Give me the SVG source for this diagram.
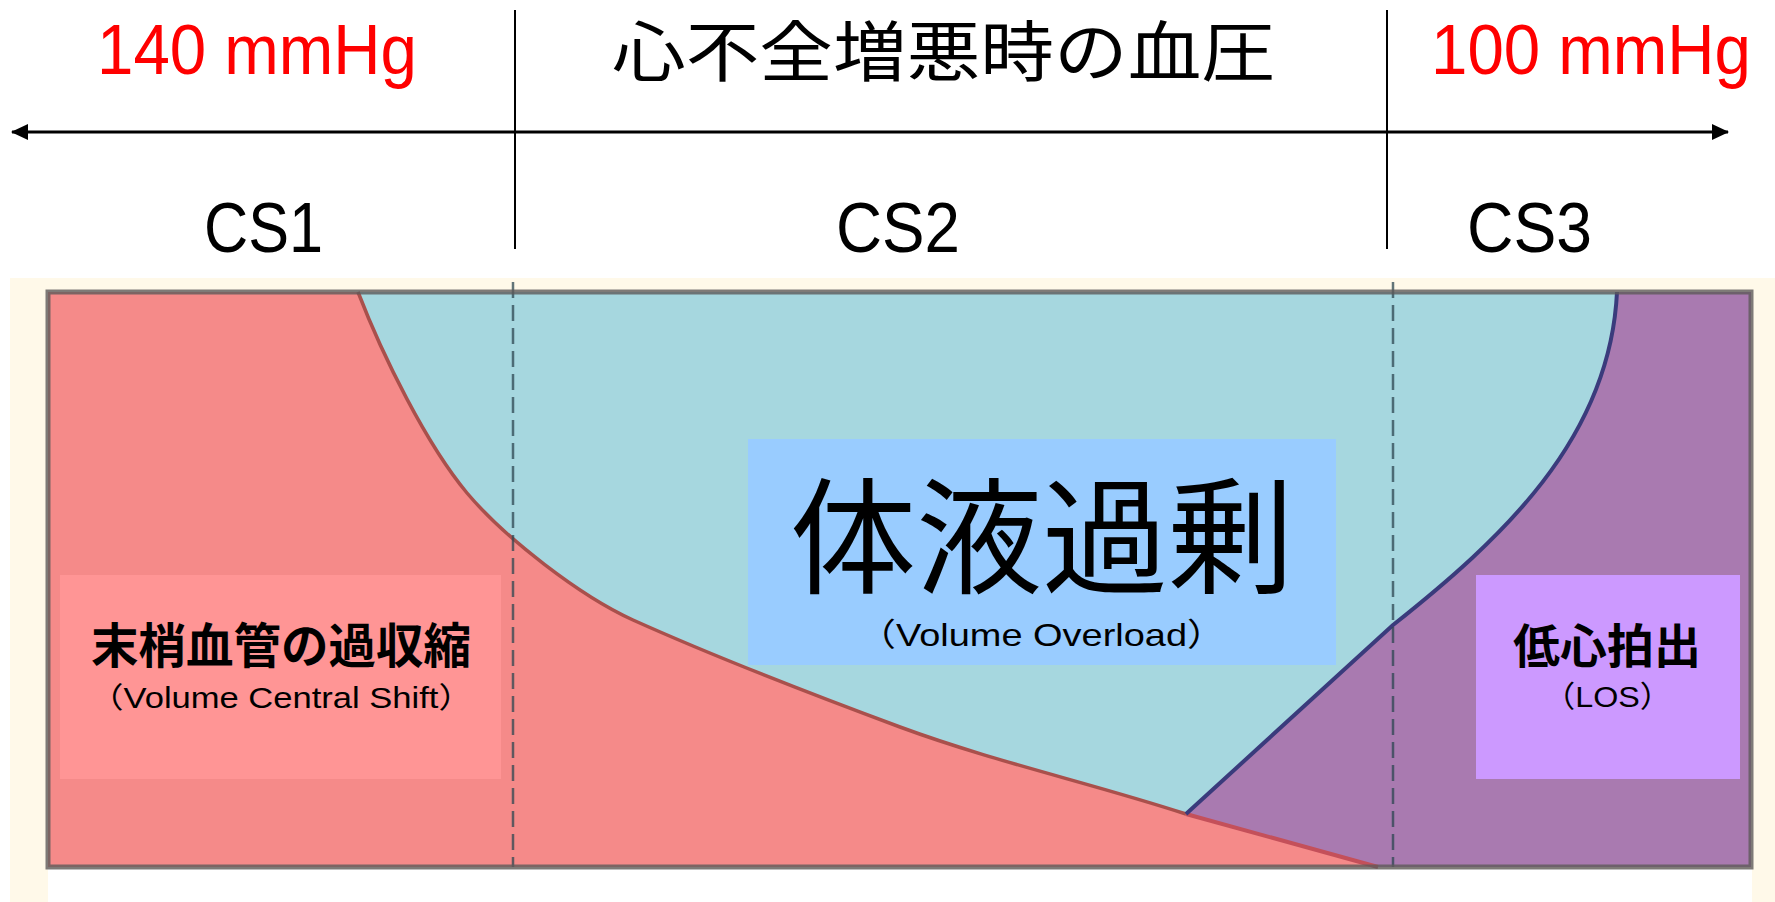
<svg xmlns="http://www.w3.org/2000/svg" width="1775" height="902" viewBox="0 0 1775 902">
<style>
.lat{font-family:"Liberation Sans","Noto Sans CJK JP",sans-serif;}
.cjk{font-family:"Noto Sans CJK JP",sans-serif;}
.red{fill:#FF0000;}
.blk{fill:#000000;}
.dash{stroke:#2E4752;stroke-opacity:0.75;stroke-width:2.5;stroke-dasharray:16 7;fill:none;}
</style>
<defs>
<marker id="ah" markerUnits="userSpaceOnUse" markerWidth="18" markerHeight="18" viewBox="0 0 18 18" refX="16" refY="9" orient="auto-start-reverse">
<path d="M0,1 L17,9 L0,17 Z" fill="#000"/>
</marker>
</defs>
<rect width="1775" height="902" fill="#FFFFFF"/>

<g id="axis">
<line x1="12" y1="132" x2="1728" y2="132" stroke="#000" stroke-width="3" marker-start="url(#ah)" marker-end="url(#ah)"/>
<line x1="515" y1="10" x2="515" y2="249" stroke="#000" stroke-width="2"/>
<line x1="1387" y1="10" x2="1387" y2="249" stroke="#000" stroke-width="2"/>
</g>

<g id="header-texts">
<text class="lat red" x="97" y="74" font-size="70" textLength="320" lengthAdjust="spacingAndGlyphs">140 mmHg</text>
<text class="cjk blk" x="612" y="76" font-size="66" textLength="663" lengthAdjust="spacingAndGlyphs">心不全増悪時の血圧</text>
<text class="lat red" x="1431" y="74" font-size="70" textLength="320" lengthAdjust="spacingAndGlyphs">100 mmHg</text>
<text class="lat blk" x="204" y="252" font-size="70" textLength="119" lengthAdjust="spacingAndGlyphs">CS1</text>
<text class="lat blk" x="836" y="252" font-size="70" textLength="124" lengthAdjust="spacingAndGlyphs">CS2</text>
<text class="lat blk" x="1467" y="252" font-size="70" textLength="125" lengthAdjust="spacingAndGlyphs">CS3</text>
</g>

<g id="chart">
<rect x="10" y="278" width="1765" height="624" fill="#FFF9E9"/>
<rect x="48" y="869" width="1704" height="33" fill="#FFFFFF"/>
<rect x="48" y="292" width="1703" height="575" fill="#A6D7DF"/>
<path id="cs1-region" d="M48,292 L358,292 C383,357 427,445 467,493 C505,538 580,596 633,620 C722,660 811,694 900,727 C995,762 1091,783 1186,814 L1378,867 L48,867 Z" fill="#F58A89"/>
<path id="cs3-region" d="M1186,814 L1393,625 C1500,540 1610,440 1617,292 L1751,292 L1751,867 L1378,867 Z" fill="#A97AB0"/>
<path d="M358,292 C383,357 427,445 467,493 C505,538 580,596 633,620 C722,660 811,694 900,727 C995,762 1091,783 1186,814" fill="none" stroke="#A9504C" stroke-width="3.5"/>
<path d="M1186,814 L1378,867" fill="none" stroke="#C4505A" stroke-width="4"/>
<path d="M1186,814 L1393,625 C1500,540 1610,440 1617,292" fill="none" stroke="#3A3B7C" stroke-width="4"/>
<line class="dash" x1="513" y1="282" x2="513" y2="867"/>
<line class="dash" x1="1393" y1="282" x2="1393" y2="867"/>
<rect x="48" y="292" width="1703" height="575" fill="none" stroke="#5E5A5A" stroke-opacity="0.8" stroke-width="5"/>
</g>

<g id="node-vcs">
<rect x="60" y="575" width="441" height="204" fill="#FF9595"/>
<text class="cjk blk" x="281" y="663" font-size="47.5" font-weight="bold" text-anchor="middle">末梢血管の過収縮</text>
<text class="lat blk" x="89" y="708" font-size="29" textLength="384" lengthAdjust="spacingAndGlyphs">（Volume Central Shift）</text>
</g>

<g id="node-vo">
<rect x="748" y="439" width="588" height="226" fill="#99CCFF"/>
<text class="cjk blk" x="1042" y="584" font-size="126" text-anchor="middle">体液過剰</text>
<text class="lat blk" x="858" y="646" font-size="32" textLength="367" lengthAdjust="spacingAndGlyphs">（Volume Overload）</text>
</g>

<g id="node-los">
<rect x="1476" y="575" width="264" height="204" fill="#CC99FF"/>
<text class="cjk blk" x="1607" y="663" font-size="47" font-weight="bold" text-anchor="middle">低心拍出</text>
<text class="lat blk" x="1543" y="707" font-size="30" textLength="129" lengthAdjust="spacingAndGlyphs">（LOS）</text>
</g>
</svg>
